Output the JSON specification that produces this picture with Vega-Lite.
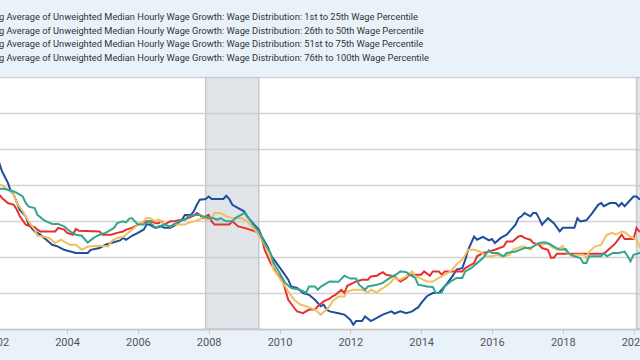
{
  "$schema": "https://vega.github.io/schema/vega-lite/v6.json",
  "width": 680,
  "height": 252,
  "autosize": {"type": "none"},
  "padding": {"left": -20, "right": -20, "top": 77, "bottom": 31},
  "background": "#e9f1f9",
  "config": {"view": {"fill": "#ffffff", "stroke": null}},
  "title": {
    "text": [
      "g Average of Unweighted Median Hourly Wage Growth: Wage Distribution: 1st to 25th Wage Percentile",
      "g Average of Unweighted Median Hourly Wage Growth: Wage Distribution: 26th to 50th Wage Percentile",
      "g Average of Unweighted Median Hourly Wage Growth: Wage Distribution: 51st to 75th Wage Percentile",
      "g Average of Unweighted Median Hourly Wage Growth: Wage Distribution: 76th to 100th Wage Percentile"
    ],
    "anchor": "start",
    "frame": "group",
    "dx": 19,
    "offset": 13.5,
    "font": "Roboto",
    "fontSize": 9.3,
    "fontWeight": "normal",
    "color": "#333333",
    "lineHeight": 13.8
  },
  "datasets": {
    "recessions": [
      {"start": "2007-12-01", "end": "2009-06-01"},
      {"start": "2020-02-01", "end": "2020-04-01"}
    ],
    "blue": [
      {"date":"2002-01","value":5.85},{"date":"2002-02","value":5.61},{"date":"2002-03","value":5.38},{"date":"2002-05","value":5.06},{"date":"2002-06","value":4.82},{"date":"2002-07","value":4.73},{"date":"2002-08","value":4.51},{"date":"2002-09","value":4.31},{"date":"2002-11","value":4.13},{"date":"2002-12","value":3.90},
      {"date":"2003-02","value":3.71},{"date":"2003-04","value":3.62},{"date":"2003-06","value":3.48},{"date":"2003-08","value":3.34},{"date":"2003-10","value":3.29},{"date":"2003-12","value":3.20},
      {"date":"2004-04","value":3.11},{"date":"2004-08","value":3.11},{"date":"2004-09","value":3.20},{"date":"2004-12","value":3.25},
      {"date":"2005-02","value":3.34},{"date":"2005-04","value":3.39},{"date":"2005-07","value":3.46},{"date":"2005-08","value":3.53},{"date":"2005-09","value":3.48},{"date":"2005-11","value":3.59},
      {"date":"2006-01","value":3.67},{"date":"2006-03","value":3.76},{"date":"2006-04","value":3.90},{"date":"2006-05","value":3.90},{"date":"2006-07","value":3.81},{"date":"2006-09","value":3.85},{"date":"2006-10","value":3.81},{"date":"2006-12","value":3.81},
      {"date":"2007-02","value":3.90},{"date":"2007-04","value":4.04},{"date":"2007-05","value":4.17},{"date":"2007-07","value":4.17},{"date":"2007-08","value":4.27},{"date":"2007-09","value":4.45},{"date":"2007-10","value":4.59},{"date":"2007-12","value":4.61},
      {"date":"2008-01","value":4.68},{"date":"2008-02","value":4.61},{"date":"2008-06","value":4.61},{"date":"2008-07","value":4.70},{"date":"2008-08","value":4.61},{"date":"2008-09","value":4.45},{"date":"2008-11","value":4.36},
      {"date":"2009-01","value":4.27},{"date":"2009-02","value":4.13},{"date":"2009-04","value":3.94},{"date":"2009-06","value":3.76},{"date":"2009-07","value":3.57},{"date":"2009-09","value":3.29},{"date":"2009-10","value":3.06},{"date":"2009-12","value":2.83},
      {"date":"2010-02","value":2.60},{"date":"2010-04","value":2.37},{"date":"2010-05","value":2.18},{"date":"2010-07","value":2.14},{"date":"2010-09","value":2.00},{"date":"2010-11","value":1.95},
      {"date":"2011-01","value":1.81},{"date":"2011-02","value":1.72},{"date":"2011-03","value":1.63},{"date":"2011-04","value":1.68},{"date":"2011-05","value":1.54},{"date":"2011-06","value":1.49},{"date":"2011-09","value":1.44},{"date":"2011-11","value":1.40},
      {"date":"2012-01","value":1.26},{"date":"2012-02","value":1.12},{"date":"2012-03","value":1.22},{"date":"2012-05","value":1.22},{"date":"2012-06","value":1.35},{"date":"2012-08","value":1.22},{"date":"2012-10","value":1.31},{"date":"2012-12","value":1.40},
      {"date":"2013-03","value":1.49},{"date":"2013-04","value":1.43},{"date":"2013-06","value":1.49},{"date":"2013-08","value":1.44},{"date":"2013-10","value":1.49},{"date":"2013-11","value":1.55},{"date":"2013-12","value":1.60},
      {"date":"2014-01","value":1.72},{"date":"2014-03","value":1.91},{"date":"2014-05","value":2.00},{"date":"2014-07","value":2.00},{"date":"2014-08","value":2.09},{"date":"2014-10","value":2.28},{"date":"2014-12","value":2.51},
      {"date":"2015-01","value":2.65},{"date":"2015-03","value":2.69},{"date":"2015-04","value":2.92},{"date":"2015-05","value":3.20},{"date":"2015-07","value":3.57},{"date":"2015-08","value":3.48},{"date":"2015-10","value":3.56},{"date":"2015-12","value":3.46},
      {"date":"2016-01","value":3.50},{"date":"2016-02","value":3.39},{"date":"2016-04","value":3.53},{"date":"2016-06","value":3.62},{"date":"2016-07","value":3.71},{"date":"2016-09","value":3.90},{"date":"2016-10","value":4.08},{"date":"2016-11","value":4.13},{"date":"2016-12","value":4.22},
      {"date":"2017-02","value":4.13},{"date":"2017-03","value":4.22},{"date":"2017-04","value":4.22},{"date":"2017-05","value":4.08},{"date":"2017-06","value":3.90},{"date":"2017-08","value":4.08},{"date":"2017-10","value":3.94},{"date":"2017-12","value":3.71},
      {"date":"2018-01","value":3.81},{"date":"2018-05","value":3.81},{"date":"2018-06","value":4.08},{"date":"2018-07","value":3.99},{"date":"2018-09","value":4.02},{"date":"2018-11","value":4.22},
      {"date":"2019-01","value":4.45},{"date":"2019-02","value":4.50},{"date":"2019-03","value":4.41},{"date":"2019-05","value":4.50},{"date":"2019-07","value":4.50},{"date":"2019-08","value":4.41},{"date":"2019-09","value":4.50},{"date":"2019-10","value":4.41},{"date":"2019-12","value":4.59},
      {"date":"2020-01","value":4.68},{"date":"2020-02","value":4.68},{"date":"2020-03","value":4.61},{"date":"2020-05","value":4.55}
    ],
    "red": [
      {"date":"2002-01","value":4.80},{"date":"2002-02","value":4.73},{"date":"2002-03","value":4.64},{"date":"2002-05","value":4.50},{"date":"2002-07","value":4.45},{"date":"2002-08","value":4.31},{"date":"2002-09","value":4.13},{"date":"2002-11","value":3.90},{"date":"2002-12","value":3.87},
      {"date":"2003-02","value":3.83},{"date":"2003-03","value":3.76},{"date":"2003-04","value":3.71},{"date":"2003-09","value":3.71},{"date":"2003-10","value":3.81},{"date":"2003-12","value":3.76},
      {"date":"2004-01","value":3.67},{"date":"2004-03","value":3.62},{"date":"2004-04","value":3.78},{"date":"2004-05","value":3.73},{"date":"2004-12","value":3.71},
      {"date":"2005-01","value":3.62},{"date":"2005-04","value":3.62},{"date":"2005-06","value":3.67},{"date":"2005-08","value":3.71},{"date":"2005-09","value":3.76},{"date":"2005-11","value":3.81},
      {"date":"2006-01","value":3.90},{"date":"2006-02","value":3.94},{"date":"2006-04","value":3.99},{"date":"2006-06","value":3.99},{"date":"2006-07","value":3.94},{"date":"2006-08","value":3.94},{"date":"2006-09","value":3.99},{"date":"2006-10","value":3.90},{"date":"2006-12","value":3.99},
      {"date":"2007-01","value":3.99},{"date":"2007-03","value":4.02},{"date":"2007-05","value":4.04},{"date":"2007-06","value":4.08},{"date":"2007-08","value":4.15},{"date":"2007-09","value":4.22},{"date":"2007-10","value":4.17},{"date":"2007-11","value":4.08},
      {"date":"2008-01","value":4.17},{"date":"2008-02","value":3.99},{"date":"2008-03","value":3.90},{"date":"2008-08","value":3.90},{"date":"2008-09","value":3.99},{"date":"2008-11","value":3.85},
      {"date":"2009-01","value":3.81},{"date":"2009-03","value":3.76},{"date":"2009-05","value":3.71},{"date":"2009-07","value":3.53},{"date":"2009-08","value":3.20},{"date":"2009-10","value":2.83},{"date":"2009-12","value":2.56},
      {"date":"2010-02","value":2.37},{"date":"2010-03","value":2.09},{"date":"2010-04","value":1.81},{"date":"2010-06","value":1.59},{"date":"2010-07","value":1.49},{"date":"2010-09","value":1.44},{"date":"2010-11","value":1.54},
      {"date":"2011-01","value":1.54},{"date":"2011-02","value":1.63},{"date":"2011-04","value":1.77},{"date":"2011-06","value":1.84},{"date":"2011-07","value":1.91},{"date":"2011-08","value":1.95},{"date":"2011-10","value":2.09},{"date":"2011-11","value":2.00},{"date":"2011-12","value":2.20},
      {"date":"2012-02","value":2.28},{"date":"2012-03","value":2.32},{"date":"2012-05","value":2.37},{"date":"2012-07","value":2.37},{"date":"2012-08","value":2.46},{"date":"2012-10","value":2.48},{"date":"2012-12","value":2.58},
      {"date":"2013-01","value":2.51},{"date":"2013-04","value":2.46},{"date":"2013-06","value":2.32},{"date":"2013-08","value":2.42},{"date":"2013-09","value":2.51},
      {"date":"2014-01","value":2.51},{"date":"2014-02","value":2.60},{"date":"2014-04","value":2.48},{"date":"2014-05","value":2.60},{"date":"2014-07","value":2.60},{"date":"2014-08","value":2.51},{"date":"2014-09","value":2.60},
      {"date":"2015-03","value":2.60},{"date":"2015-04","value":2.69},{"date":"2015-07","value":2.83},{"date":"2015-08","value":3.02},{"date":"2015-10","value":3.11},{"date":"2015-12","value":3.15},
      {"date":"2016-02","value":3.20},{"date":"2016-05","value":3.29},{"date":"2016-06","value":3.43},{"date":"2016-08","value":3.43},{"date":"2016-10","value":3.57},{"date":"2016-11","value":3.59},{"date":"2016-12","value":3.53},
      {"date":"2017-02","value":3.48},{"date":"2017-03","value":3.39},{"date":"2017-05","value":3.34},{"date":"2017-06","value":3.25},{"date":"2017-08","value":3.20},{"date":"2017-09","value":2.98},{"date":"2017-10","value":2.98},{"date":"2017-11","value":3.09},
      {"date":"2019-03","value":3.09},{"date":"2019-06","value":3.31},{"date":"2019-07","value":3.39},{"date":"2019-09","value":3.62},{"date":"2019-10","value":3.50},
      {"date":"2020-01","value":3.50},{"date":"2020-02","value":3.81},{"date":"2020-03","value":3.71},{"date":"2020-05","value":3.68}
    ],
    "teal": [
      {"date":"2002-01","value":4.90},{"date":"2002-02","value":4.90},{"date":"2002-04","value":4.89},{"date":"2002-07","value":4.82},{"date":"2002-08","value":4.78},{"date":"2002-10","value":4.68},{"date":"2002-11","value":4.50},{"date":"2002-12","value":4.40},
      {"date":"2003-02","value":4.36},{"date":"2003-03","value":4.17},{"date":"2003-05","value":4.04},{"date":"2003-06","value":3.99},{"date":"2003-08","value":3.92},{"date":"2003-10","value":3.92},{"date":"2003-12","value":3.85},
      {"date":"2004-02","value":3.71},{"date":"2004-04","value":3.62},{"date":"2004-06","value":3.59},{"date":"2004-08","value":3.40},{"date":"2004-10","value":3.53},{"date":"2004-12","value":3.62},
      {"date":"2005-02","value":3.67},{"date":"2005-04","value":3.76},{"date":"2005-05","value":3.81},{"date":"2005-06","value":3.94},{"date":"2005-08","value":3.99},{"date":"2005-09","value":3.96},{"date":"2005-10","value":4.06},{"date":"2005-11","value":4.08},{"date":"2005-12","value":3.99},
      {"date":"2006-01","value":3.90},{"date":"2006-03","value":3.90},{"date":"2006-05","value":3.99},{"date":"2006-06","value":3.90},{"date":"2006-07","value":3.81},{"date":"2006-08","value":3.85},{"date":"2006-10","value":3.90},{"date":"2006-12","value":3.85},
      {"date":"2007-01","value":3.90},{"date":"2007-03","value":3.99},{"date":"2007-05","value":4.04},{"date":"2007-06","value":4.13},{"date":"2007-08","value":4.17},{"date":"2007-10","value":4.17},{"date":"2007-11","value":4.13},
      {"date":"2008-01","value":4.08},{"date":"2008-02","value":4.09},{"date":"2008-04","value":4.04},{"date":"2008-05","value":4.08},{"date":"2008-07","value":3.99},{"date":"2008-09","value":3.99},{"date":"2008-10","value":4.08},{"date":"2008-12","value":4.17},
      {"date":"2009-01","value":4.22},{"date":"2009-02","value":4.15},{"date":"2009-04","value":3.90},{"date":"2009-06","value":3.71},{"date":"2009-08","value":3.39},{"date":"2009-10","value":3.11},{"date":"2009-11","value":2.83},
      {"date":"2010-01","value":2.56},{"date":"2010-03","value":2.28},{"date":"2010-05","value":2.14},{"date":"2010-08","value":2.09},{"date":"2010-10","value":2.00},{"date":"2010-11","value":2.18},
      {"date":"2011-01","value":2.18},{"date":"2011-02","value":2.09},{"date":"2011-03","value":2.17},{"date":"2011-06","value":2.32},{"date":"2011-09","value":2.31},{"date":"2011-11","value":2.48},
      {"date":"2012-01","value":2.40},{"date":"2012-03","value":2.40},{"date":"2012-04","value":2.23},{"date":"2012-06","value":2.09},{"date":"2012-07","value":2.18},{"date":"2012-10","value":2.23},{"date":"2012-12","value":2.28},
      {"date":"2013-02","value":2.40},{"date":"2013-05","value":2.54},{"date":"2013-06","value":2.60},{"date":"2013-08","value":2.58},{"date":"2013-09","value":2.51},{"date":"2013-11","value":2.42},{"date":"2013-12","value":2.23},
      {"date":"2014-03","value":2.18},{"date":"2014-05","value":2.17},{"date":"2014-06","value":2.00},{"date":"2014-08","value":2.01},{"date":"2014-09","value":2.18},{"date":"2014-11","value":2.32},
      {"date":"2015-01","value":2.42},{"date":"2015-03","value":2.42},{"date":"2015-04","value":2.60},{"date":"2015-06","value":2.69},{"date":"2015-08","value":2.83},{"date":"2015-10","value":2.97},{"date":"2015-12","value":3.19},
      {"date":"2016-01","value":3.11},{"date":"2016-03","value":3.11},{"date":"2016-05","value":3.02},{"date":"2016-06","value":3.11},{"date":"2016-09","value":3.15},{"date":"2016-12","value":3.25},
      {"date":"2017-02","value":3.25},{"date":"2017-04","value":3.34},{"date":"2017-05","value":3.39},{"date":"2017-07","value":3.41},{"date":"2017-09","value":3.34},{"date":"2017-10","value":3.29},{"date":"2017-12","value":3.20},
      {"date":"2018-02","value":3.22},{"date":"2018-03","value":3.11},{"date":"2018-05","value":3.02},{"date":"2018-07","value":2.97},{"date":"2018-08","value":2.83},{"date":"2018-09","value":2.83},{"date":"2018-10","value":3.02},
      {"date":"2019-02","value":3.02},{"date":"2019-03","value":3.11},{"date":"2019-04","value":3.02},{"date":"2019-06","value":3.11},{"date":"2019-08","value":3.11},{"date":"2019-10","value":3.15},{"date":"2019-11","value":3.02},{"date":"2019-12","value":2.88},
      {"date":"2020-01","value":3.06},{"date":"2020-03","value":3.11},{"date":"2020-05","value":3.11}
    ],
    "gold": [
      {"date":"2002-01","value":5.01},{"date":"2002-02","value":5.01},{"date":"2002-03","value":4.99},{"date":"2002-05","value":4.87},{"date":"2002-07","value":4.73},{"date":"2002-08","value":4.50},{"date":"2002-10","value":4.27},{"date":"2002-12","value":3.99},
      {"date":"2003-02","value":3.76},{"date":"2003-03","value":3.59},{"date":"2003-05","value":3.57},{"date":"2003-07","value":3.53},{"date":"2003-09","value":3.39},{"date":"2003-11","value":3.48},{"date":"2003-12","value":3.43},
      {"date":"2004-02","value":3.34},{"date":"2004-04","value":3.34},{"date":"2004-06","value":3.20},{"date":"2004-08","value":3.29},{"date":"2004-12","value":3.31},
      {"date":"2005-03","value":3.29},{"date":"2005-04","value":3.43},{"date":"2005-06","value":3.53},{"date":"2005-08","value":3.56},{"date":"2005-09","value":3.62},{"date":"2005-11","value":3.76},
      {"date":"2006-01","value":3.90},{"date":"2006-03","value":3.99},{"date":"2006-04","value":4.08},{"date":"2006-05","value":4.08},{"date":"2006-07","value":3.99},{"date":"2006-08","value":4.04},{"date":"2006-10","value":3.90},{"date":"2006-12","value":3.85},
      {"date":"2007-01","value":3.90},{"date":"2007-05","value":3.90},{"date":"2007-06","value":3.94},{"date":"2007-08","value":3.99},{"date":"2007-10","value":4.04},{"date":"2007-11","value":4.13},{"date":"2007-12","value":4.04},
      {"date":"2008-02","value":4.08},{"date":"2008-03","value":4.22},{"date":"2008-05","value":4.22},{"date":"2008-07","value":4.13},{"date":"2008-09","value":4.08},{"date":"2008-10","value":4.06},{"date":"2008-12","value":4.08},
      {"date":"2009-02","value":3.99},{"date":"2009-04","value":3.81},{"date":"2009-06","value":3.62},{"date":"2009-08","value":3.34},{"date":"2009-10","value":3.02},{"date":"2009-11","value":2.65},
      {"date":"2010-01","value":2.42},{"date":"2010-03","value":2.18},{"date":"2010-04","value":2.04},{"date":"2010-06","value":1.81},{"date":"2010-08","value":1.68},{"date":"2010-10","value":1.63},
      {"date":"2011-01","value":1.54},{"date":"2011-03","value":1.40},{"date":"2011-05","value":1.54},{"date":"2011-06","value":1.63},{"date":"2011-07","value":1.77},{"date":"2011-09","value":1.90},{"date":"2011-11","value":1.90},{"date":"2011-12","value":2.04},
      {"date":"2012-02","value":2.09},{"date":"2012-05","value":2.09},{"date":"2012-07","value":2.01},{"date":"2012-08","value":2.09},{"date":"2012-10","value":2.01},{"date":"2012-11","value":2.09},
      {"date":"2013-01","value":2.18},{"date":"2013-03","value":2.32},{"date":"2013-04","value":2.42},{"date":"2013-06","value":2.37},{"date":"2013-08","value":2.46},{"date":"2013-09","value":2.55},{"date":"2013-10","value":2.60},{"date":"2013-11","value":2.46},{"date":"2013-12","value":2.44},
      {"date":"2014-03","value":2.32},{"date":"2014-05","value":2.32},{"date":"2014-07","value":2.42},{"date":"2014-08","value":2.46},{"date":"2014-11","value":2.60},
      {"date":"2015-01","value":2.79},{"date":"2015-03","value":2.93},{"date":"2015-04","value":3.06},{"date":"2015-05","value":3.20},{"date":"2015-07","value":3.20},{"date":"2015-09","value":3.15},{"date":"2015-11","value":3.02},
      {"date":"2016-01","value":3.02},{"date":"2016-03","value":3.06},{"date":"2016-04","value":3.02},{"date":"2016-05","value":3.02},{"date":"2016-07","value":3.06},{"date":"2016-08","value":3.20},{"date":"2016-11","value":3.29},{"date":"2016-12","value":3.29},
      {"date":"2017-02","value":3.20},{"date":"2017-03","value":3.29},{"date":"2017-05","value":3.39},{"date":"2017-06","value":3.34},{"date":"2017-08","value":3.39},{"date":"2017-09","value":3.29},{"date":"2017-11","value":3.20},
      {"date":"2018-01","value":3.31},{"date":"2018-02","value":3.15},{"date":"2018-04","value":3.02},{"date":"2018-05","value":3.06},{"date":"2018-08","value":3.06},{"date":"2018-09","value":2.97},{"date":"2018-10","value":3.15},{"date":"2018-12","value":3.29},
      {"date":"2019-02","value":3.34},{"date":"2019-03","value":3.48},{"date":"2019-04","value":3.62},{"date":"2019-06","value":3.67},{"date":"2019-07","value":3.62},{"date":"2019-09","value":3.71},{"date":"2019-10","value":3.69},{"date":"2019-12","value":3.56},
      {"date":"2020-02","value":3.48},{"date":"2020-03","value":3.29},{"date":"2020-05","value":3.20}
    ]
  },
  "layer": [
    {
      "data": {"name": "recessions"},
      "mark": {"type": "rect", "fill": "#bcc5d0", "fillOpacity": 0.45, "stroke": "#c5c8cc", "strokeWidth": 1.5, "clip": true},
      "encoding": {
        "x": {
          "field": "start",
          "type": "temporal",
          "scale": {
            "type": "utc",
            "domain": [
              {"year": 2001, "month": 7, "date": 17, "utc": true},
              {"year": 2020, "month": 9, "date": 30, "utc": true}
            ]
          },
          "axis": {
            "title": null,
            "format": "%Y",
            "tickCount": {"interval": "year", "step": 2},
            "grid": false,
            "domainColor": "#c8c8c8",
            "domainWidth": 1.5,
            "tickColor": "#c8c8c8",
            "tickSize": 5,
            "labelFont": "Roboto",
            "labelFontSize": 11,
            "labelColor": "#555555",
            "labelPadding": 2,
            "labelFlush": false,
            "labelOverlap": false
          }
        },
        "x2": {"field": "end"}
      }
    },
    {
      "data": {"name": "blue"},
      "mark": {"type": "line", "color": "#1f4e9c", "strokeWidth": 2, "clip": true},
      "encoding": {
        "x": {"field": "date", "type": "temporal"},
        "y": {
          "field": "value",
          "type": "quantitative",
          "scale": {"domain": [1, 8], "nice": false, "zero": false},
          "axis": {"title": null, "labels": false, "ticks": false, "domain": false, "grid": true, "values": [1, 2, 3, 4, 5, 6, 7, 8], "tickCount": 8, "labelOverlap": false, "gridColor": "#d2d2d2", "gridWidth": 1.5}
        }
      }
    },
    {
      "data": {"name": "red"},
      "mark": {"type": "line", "color": "#e6302f", "strokeWidth": 2, "clip": true},
      "encoding": {
        "x": {"field": "date", "type": "temporal"},
        "y": {
          "field": "value",
          "type": "quantitative",
          "scale": {"domain": [1, 8], "nice": false, "zero": false},
          "axis": {"title": null, "labels": false, "ticks": false, "domain": false, "grid": true, "values": [1, 2, 3, 4, 5, 6, 7, 8], "tickCount": 8, "labelOverlap": false, "gridColor": "#d2d2d2", "gridWidth": 1.5}
        }
      }
    },
    {
      "data": {"name": "gold"},
      "mark": {"type": "line", "color": "#f0c060", "strokeWidth": 2, "clip": true},
      "encoding": {
        "x": {"field": "date", "type": "temporal"},
        "y": {
          "field": "value",
          "type": "quantitative",
          "scale": {"domain": [1, 8], "nice": false, "zero": false},
          "axis": {"title": null, "labels": false, "ticks": false, "domain": false, "grid": true, "values": [1, 2, 3, 4, 5, 6, 7, 8], "tickCount": 8, "labelOverlap": false, "gridColor": "#d2d2d2", "gridWidth": 1.5}
        }
      }
    },
    {
      "data": {"name": "teal"},
      "mark": {"type": "line", "color": "#35a58f", "strokeWidth": 2, "clip": true},
      "encoding": {
        "x": {"field": "date", "type": "temporal"},
        "y": {
          "field": "value",
          "type": "quantitative",
          "scale": {"domain": [1, 8], "nice": false, "zero": false},
          "axis": {"title": null, "labels": false, "ticks": false, "domain": false, "grid": true, "values": [1, 2, 3, 4, 5, 6, 7, 8], "tickCount": 8, "labelOverlap": false, "gridColor": "#d2d2d2", "gridWidth": 1.5}
        }
      }
    }
  ]
}
